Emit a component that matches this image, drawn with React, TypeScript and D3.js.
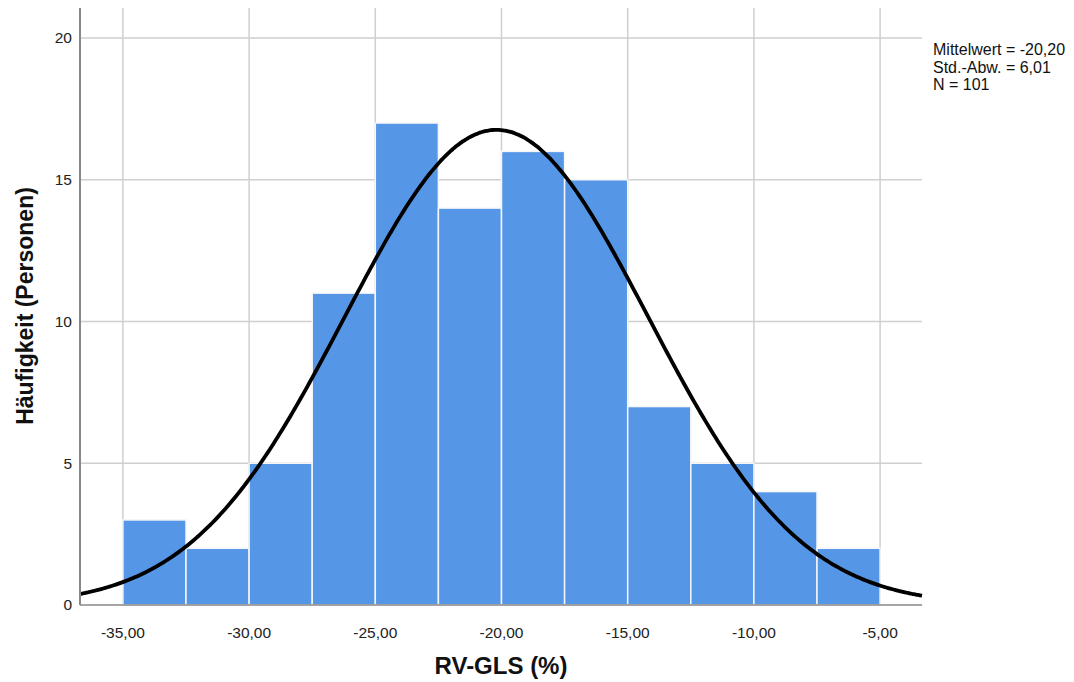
import * as d3 from 'd3';

// histogram bins (lower edge, width 2.5) and counts
const binStarts = [-35, -32.5, -30, -27.5, -25, -22.5, -20, -17.5, -15, -12.5, -10, -7.5];
const counts = [3, 2, 5, 11, 17, 14, 16, 15, 7, 5, 4, 2];
const binWidth = 2.5;
const xTicks = [-35, -30, -25, -20, -15, -10, -5];
const yTicks = [0, 5, 10, 15, 20];
const mean = -20.2;
const sd = 6.01;
const n = 101;
const statLines = ['Mittelwert = -20,20', 'Std.-Abw. = 6,01', 'N = 101'];

const W = 1074;
const H = 682;
const left = 80;
const right = 922;
const top = 8;
const bottom = 605;

export default function App() {
  const x = d3.scaleLinear().domain([-36.7, -3.34]).range([left, right]);
  const y = d3.scaleLinear().domain([0, 20]).range([bottom, 38]);

  const fmt = (v: number) => v.toFixed(2).replace('.', ',');

  // fitted normal curve, scaled to the histogram counts
  const pdf = (v: number) =>
    (n * binWidth) / (sd * Math.sqrt(2 * Math.PI)) * Math.exp(-0.5 * ((v - mean) / sd) ** 2);
  const xs = d3.range(0, 401).map(i => -36.7 + (i / 400) * (36.7 - 3.34));
  const line = d3.line<number>().x(v => x(v)).y(v => y(pdf(v))).curve(d3.curveBasis);

  const font = 'Arial, "Liberation Sans", sans-serif';
  const grid = '#cfcfcf';

  return (
    <svg width={W} height={H} style={{ position: 'absolute', left: 0, top: 0, background: '#fff' }}>
      {/* grid */}
      {yTicks.filter(t => t > 0).map(t => (
        <line key={'h' + t} x1={left} x2={right} y1={y(t)} y2={y(t)} stroke={grid} strokeWidth={1.5} />
      ))}
      {xTicks.map(t => (
        <line key={'v' + t} x1={x(t)} x2={x(t)} y1={top} y2={bottom} stroke={grid} strokeWidth={1.5} />
      ))}

      {/* bars */}
      {binStarts.map((b, i) => (
        <rect
          key={b}
          x={x(b)}
          y={y(counts[i])}
          width={x(b + binWidth) - x(b)}
          height={bottom - y(counts[i])}
          fill="#5596e6"
          stroke="#f4f6fa"
          strokeWidth={1.5}
        />
      ))}

      {/* normal curve */}
      <path d={line(xs) ?? ''} fill="none" stroke="#000" strokeWidth={3.8} />

      {/* axes */}
      <line x1={left} x2={left} y1={top} y2={bottom} stroke="#888" strokeWidth={2} />
      <line x1={left} x2={right} y1={bottom} y2={bottom} stroke="#888" strokeWidth={1.5} />

      {yTicks.map(t => (
        <text key={'yl' + t} x={left - 8} y={y(t)} dy="0.35em" textAnchor="end" fontFamily={font} fontSize={15.5} fill="#222">
          {t}
        </text>
      ))}
      {xTicks.map(t => (
        <text key={'xl' + t} x={x(t)} y={633} dy="0.35em" textAnchor="middle" fontFamily={font} fontSize={15.5} fill="#222">
          {fmt(t)}
        </text>
      ))}

      <text x={501} y={666} dy="0.35em" textAnchor="middle" fontFamily={font} fontSize={24} fontWeight="bold" fill="#111">
        RV-GLS (%)
      </text>
      <text
        transform={`translate(25,306) rotate(-90)`}
        dy="0.35em"
        textAnchor="middle"
        fontFamily={font}
        fontSize={23}
        fontWeight="bold"
        fill="#111"
      >
        Häufigkeit (Personen)
      </text>

      {statLines.map((s, i) => (
        <text key={s} x={933} y={55 + i * 17.5} fontFamily={font} fontSize={16} fill="#111">
          {s}
        </text>
      ))}
    </svg>
  );
}
